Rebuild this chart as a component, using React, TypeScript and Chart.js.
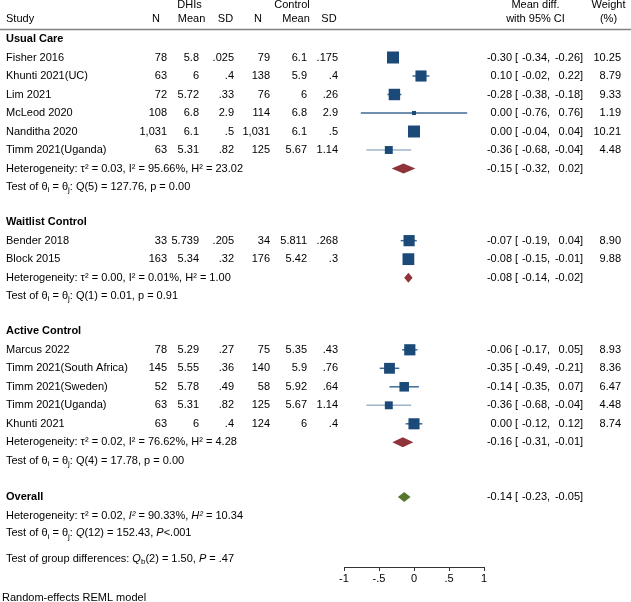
import React, { useEffect, useRef } from 'react';
import { Chart, registerables } from 'chart.js';
Chart.register(...registerables);

// ---------- data ----------
const groups = ['Usual Care', 'Waitlist Control', 'Active Control'];
const studies = [
  'Fisher 2016', 'Khunti 2021(UC)', 'Lim 2021', 'McLeod 2020', 'Nanditha 2020', 'Timm 2021(Uganda)',
  'Bender 2018', 'Block 2015',
  'Marcus 2022', 'Timm 2021(South Africa)', 'Timm 2021(Sweden)', 'Timm 2021(Uganda)', 'Khunti 2021',
];
const studyGroup = [0, 0, 0, 0, 0, 0, 1, 1, 2, 2, 2, 2, 2];
const dhiN = ['78', '63', '72', '108', '1,031', '63', '33', '163', '78', '145', '52', '63', '63'];
const dhiMean = ['5.8', '6', '5.72', '6.8', '6.1', '5.31', '5.739', '5.34', '5.29', '5.55', '5.78', '5.31', '6'];
const dhiSD = ['.025', '.4', '.33', '2.9', '.5', '.82', '.205', '.32', '.27', '.36', '.49', '.82', '.4'];
const ctlN = ['79', '138', '76', '114', '1,031', '125', '34', '176', '75', '140', '58', '125', '124'];
const ctlMean = ['6.1', '5.9', '6', '6.8', '6.1', '5.67', '5.811', '5.42', '5.35', '5.9', '5.92', '5.67', '6'];
const ctlSD = ['.175', '.4', '.26', '2.9', '.5', '1.14', '.268', '.3', '.43', '.76', '.64', '1.14', '.4'];
const effect = [-0.30, 0.10, -0.28, 0.00, 0.00, -0.36, -0.07, -0.08, -0.06, -0.35, -0.14, -0.36, 0.00];
const ciLow = [-0.34, -0.02, -0.38, -0.76, -0.04, -0.68, -0.19, -0.15, -0.17, -0.49, -0.35, -0.68, -0.12];
const ciHigh = [-0.26, 0.22, -0.18, 0.76, 0.04, -0.04, 0.04, -0.01, 0.05, -0.21, 0.07, -0.04, 0.12];
const weight = [10.25, 8.79, 9.33, 1.19, 10.21, 4.48, 8.90, 9.88, 8.93, 8.36, 6.47, 4.48, 8.74];

const groupEffect = [-0.15, -0.08, -0.16];
const groupLow = [-0.32, -0.14, -0.31];
const groupHigh = [0.02, -0.02, -0.01];
const groupTau2 = ['0.03', '0.00', '0.02'];
const groupI2 = ['95.66', '0.01', '76.62'];
const groupH2 = ['23.02', '1.00', '4.28'];
const groupQdf = ['5', '1', '4'];
const groupQ = ['127.76', '0.01', '17.78'];
const groupP = ['0.00', '0.91', '0.00'];

const overallEffect = -0.14;
const overallLow = -0.23;
const overallHigh = -0.05;
const overallTau2 = '0.02';
const overallI2 = '90.33';
const overallH2 = '10.34';
const overallQdf = '12';
const overallQ = '152.43';
const overallP = '<.001';
const groupDiffDf = '2';
const groupDiffQ = '1.50';
const groupDiffP = '.47';

const xTicks = [-1, -0.5, 0, 0.5, 1];

// ---------- layout (row units) ----------
const groupHeaderRow = [0, 9.9, 15.8];
const overallRow = 24.75;
const overallHetRow = 25.77;
const overallTestRow = 26.72;
const groupDiffRow = 28.12;
const footRow = 30.2;
const headRow1 = -1.84;
const headRow2 = -1.06;
const headLineRow = -0.51;

const studyRow: number[] = [];
const hetRow: number[] = [];
const testRow: number[] = [];
groups.forEach((_, g) => {
  let k = 0;
  studies.forEach((__, i) => {
    if (studyGroup[i] === g) {
      k += 1;
      studyRow[i] = groupHeaderRow[g] + k;
    }
  });
  hetRow[g] = groupHeaderRow[g] + k + 1;
  testRow[g] = groupHeaderRow[g] + k + 2;
});

const FONT = '"Liberation Sans", Arial, Helvetica, sans-serif';
const NAVY = '#1c4a78';
const CI_COL = '#3f6a96';
const CI_LIGHT = '#9fb4ca';
const RED = '#8f343b';
const GREEN = '#56772f';

type Seg = [string, string?];

function drawRich(ctx: CanvasRenderingContext2D, x: number, y: number, segs: Seg[]) {
  let cx = x;
  for (const [t, st] of segs) {
    const s = st || 'n';
    if (s === 'sub') {
      ctx.font = `8px ${FONT}`;
      ctx.fillText(t, cx, y + 3);
    } else if (s === 'i') {
      ctx.font = `italic 11px ${FONT}`;
      ctx.fillText(t, cx, y);
    } else {
      ctx.font = `11px ${FONT}`;
      ctx.fillText(t, cx, y);
    }
    cx += ctx.measureText(t).width;
  }
  ctx.font = `11px ${FONT}`;
}

const fmt = (v: number) => (Math.abs(v) < 0.005 ? '0.00' : v.toFixed(2));

function drawCIText(ctx: CanvasRenderingContext2D, y: number, est: number, lo: number, hi: number) {
  ctx.font = `11px ${FONT}`;
  ctx.textAlign = 'right';
  ctx.fillText(fmt(est), 512, y);
  ctx.fillText(fmt(lo), 547, y);
  ctx.fillText(fmt(hi), 580, y);
  ctx.textAlign = 'left';
  ctx.fillText('[', 515, y);
  ctx.fillText(',', 547, y);
  ctx.fillText(']', 580, y);
}

const forestPlugin = {
  id: 'forest',
  beforeDatasetsDraw(chart: any) {
    const { ctx, scales } = chart;
    const xs = scales.x;
    const ys = scales.y;
    ctx.save();
    ctx.lineWidth = 1.5;
    studies.forEach((s, i) => {
      const y = ys.getPixelForValue(studyRow[i]);
      ctx.strokeStyle = s.indexOf('Uganda') >= 0 ? CI_LIGHT : CI_COL;
      ctx.beginPath();
      ctx.moveTo(xs.getPixelForValue(ciLow[i]), y);
      ctx.lineTo(xs.getPixelForValue(ciHigh[i]), y);
      ctx.stroke();
    });
    const diamond = (est: number, lo: number, hi: number, row: number, col: string, h: number) => {
      const y = ys.getPixelForValue(row);
      ctx.fillStyle = col;
      ctx.beginPath();
      ctx.moveTo(xs.getPixelForValue(lo), y);
      ctx.lineTo(xs.getPixelForValue(est), y - h);
      ctx.lineTo(xs.getPixelForValue(hi), y);
      ctx.lineTo(xs.getPixelForValue(est), y + h);
      ctx.closePath();
      ctx.fill();
    };
    groups.forEach((_, g) => diamond(groupEffect[g], groupLow[g], groupHigh[g], hetRow[g], RED, 5));
    diamond(overallEffect, overallLow, overallHigh, overallRow, GREEN, 5);
    ctx.restore();
  },
  afterDraw(chart: any) {
    const { ctx, scales } = chart;
    const ys = scales.y;
    const Y = (r: number) => ys.getPixelForValue(r);
    ctx.save();
    ctx.fillStyle = '#000';
    ctx.textBaseline = 'middle';
    ctx.font = `11px ${FONT}`;

    // header
    ctx.textAlign = 'center';
    ctx.fillText('DHIs', 189.5, Y(headRow1));
    ctx.fillText('Control', 292, Y(headRow1));
    ctx.fillText('Mean diff.', 535.5, Y(headRow1));
    ctx.fillText('Weight', 608.5, Y(headRow1));
    ctx.fillText('N', 156, Y(headRow2));
    ctx.fillText('Mean', 191.5, Y(headRow2));
    ctx.fillText('SD', 225.5, Y(headRow2));
    ctx.fillText('N', 258, Y(headRow2));
    ctx.fillText('Mean', 296, Y(headRow2));
    ctx.fillText('SD', 329, Y(headRow2));
    ctx.fillText('with 95% CI', 535.5, Y(headRow2));
    ctx.fillText('(%)', 608.5, Y(headRow2));
    ctx.textAlign = 'left';
    ctx.fillText('Study', 6, Y(headRow2));

    ctx.strokeStyle = '#808080';
    ctx.lineWidth = 1.5;
    ctx.beginPath();
    ctx.moveTo(0, Y(headLineRow));
    ctx.lineTo(631, Y(headLineRow));
    ctx.stroke();

    // groups
    groups.forEach((gname, g) => {
      ctx.textAlign = 'left';
      ctx.font = `bold 11px ${FONT}`;
      ctx.fillText(gname, 6, Y(groupHeaderRow[g]));
      ctx.font = `11px ${FONT}`;
      drawRich(ctx, 6, Y(hetRow[g]), [[`Heterogeneity: \u03c4\u00b2 = ${groupTau2[g]}, I\u00b2 = ${groupI2[g]}%, H\u00b2 = ${groupH2[g]}`]]);
      drawRich(ctx, 6, Y(testRow[g]), [
        ['Test of \u03b8'], ['i', 'sub'], [' = \u03b8'], ['j', 'sub'],
        [`: Q(${groupQdf[g]}) = ${groupQ[g]}, p = ${groupP[g]}`],
      ]);
      drawCIText(ctx, Y(hetRow[g]), groupEffect[g], groupLow[g], groupHigh[g]);
    });

    // studies
    studies.forEach((s, i) => {
      const y = Y(studyRow[i]);
      ctx.font = `11px ${FONT}`;
      ctx.textAlign = 'left';
      ctx.fillText(s, 6, y);
      ctx.textAlign = 'right';
      ctx.fillText(dhiN[i], 167, y);
      ctx.fillText(dhiMean[i], 199, y);
      ctx.fillText(dhiSD[i], 234, y);
      ctx.fillText(ctlN[i], 270, y);
      ctx.fillText(ctlMean[i], 307, y);
      ctx.fillText(ctlSD[i], 338, y);
      drawCIText(ctx, y, effect[i], ciLow[i], ciHigh[i]);
      ctx.textAlign = 'right';
      ctx.fillText(weight[i].toFixed(2), 621, y);
    });

    // overall
    ctx.textAlign = 'left';
    ctx.font = `bold 11px ${FONT}`;
    ctx.fillText('Overall', 6, Y(overallRow));
    drawCIText(ctx, Y(overallRow), overallEffect, overallLow, overallHigh);
    ctx.textAlign = 'left';
    drawRich(ctx, 6, Y(overallHetRow), [
      [`Heterogeneity: \u03c4\u00b2 = ${overallTau2}, `], ['I\u00b2', 'i'], [` = ${overallI2}%, `], ['H\u00b2', 'i'], [` = ${overallH2}`],
    ]);
    drawRich(ctx, 6, Y(overallTestRow), [
      ['Test of \u03b8'], ['i', 'sub'], [' = \u03b8'], ['j', 'sub'], [': '], ['Q', 'i'],
      [`(${overallQdf}) = ${overallQ}, `], ['P', 'i'], [overallP],
    ]);
    drawRich(ctx, 6, Y(groupDiffRow), [
      ['Test of group differences: '], ['Q', 'i'], ['b', 'sub'], [`(${groupDiffDf}) = ${groupDiffQ}, `], ['P', 'i'], [` = ${groupDiffP}`],
    ]);
    ctx.font = `11px ${FONT}`;
    ctx.fillText('Random-effects REML model', 2, Y(footRow));
    ctx.restore();
  },
};

export default function App() {
  const ref = useRef<HTMLCanvasElement | null>(null);
  useEffect(() => {
    if (!ref.current) return;
    Chart.defaults.font.family = FONT;
    const chart = new Chart(ref.current, {
      type: 'scatter',
      data: {
        datasets: [
          {
            label: 'Studies',
            data: studies.map((_, i) => ({ x: effect[i], y: studyRow[i] })),
            pointStyle: 'rect',
            pointRadius: (c: any) => (3.75 * Math.sqrt(weight[c.dataIndex] || 1)) / Math.SQRT2,
            pointBackgroundColor: NAVY,
            pointBorderWidth: 0,
            pointBorderColor: NAVY,
          },
        ],
      },
      options: {
        animation: false,
        responsive: false,
        events: [],
        layout: { autoPadding: false, padding: { left: 344, right: 147, top: 0, bottom: 0 } },
        plugins: { legend: { display: false }, tooltip: { enabled: false } },
        scales: {
          x: {
            type: 'linear',
            min: -1,
            max: 1,
            afterBuildTicks: (s: any) => { s.ticks = xTicks.map((v) => ({ value: v })); },
            afterFit: (s: any) => { s.height = 35; },
            ticks: {
              color: '#000',
              padding: 1,
              maxRotation: 0,
              font: { size: 11, family: FONT },
              callback: (v: any) => (v === 0 ? '0' : String(v).replace('0.', '.')),
            },
            grid: { drawOnChartArea: false, drawTicks: true, tickLength: 4, color: '#333', lineWidth: 1 },
            border: { display: true, color: '#333', width: 1 },
          },
          y: {
            type: 'linear',
            display: false,
            reverse: true,
            min: -39 / 18.5,
            max: (567 - 39) / 18.5,
          },
        },
      },
      plugins: [forestPlugin],
    } as any);
    return () => chart.destroy();
  }, []);
  return (
    <div style={{ position: 'absolute', left: 0, top: 0, width: 631, height: 602, background: '#fff' }}>
      <canvas ref={ref} width={631} height={602} style={{ width: 631, height: 602, display: 'block' }} />
    </div>
  );
}
